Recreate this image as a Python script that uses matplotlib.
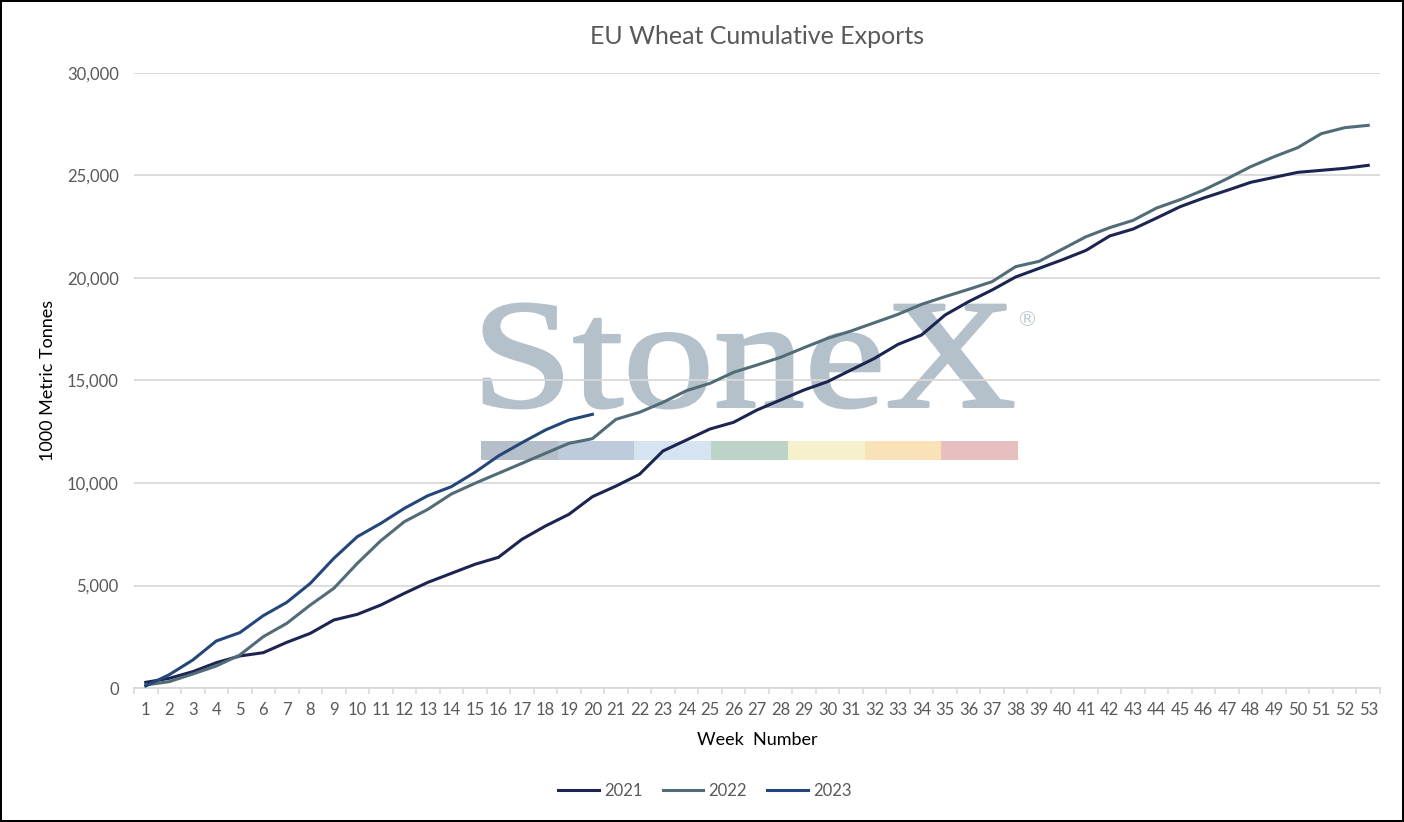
import numpy as np
import matplotlib
matplotlib.use("Agg")
import matplotlib.pyplot as plt
from matplotlib.ticker import FuncFormatter, MultipleLocator
from matplotlib.textpath import TextPath
from matplotlib.font_manager import FontProperties
from matplotlib.patches import PathPatch, Rectangle
from matplotlib.transforms import Affine2D

plt.rcParams['font.family'] = ['Lato', 'DejaVu Sans']

# --- data (1000 metric tonnes, cumulative) ---
weeks = list(range(1, 54))
exports_2021 = [276, 472, 797, 1236, 1561, 1724, 2228, 2667, 3317, 3593,
                4049, 4618, 5154, 5593, 6033, 6374, 7252, 7902, 8472, 9333,
                9850, 10423, 11561, 12098, 12634, 12959, 13561, 14049, 14537, 14943,
                15512, 16081, 16764, 17220, 18195, 18846, 19415, 20049, 20472, 20894,
                21350, 22049, 22390, 22927, 23480, 23902, 24276, 24667, 24911, 25154,
                25252, 25350, 25496]
exports_2022 = [150, 310, 683, 1073, 1610, 2504, 3155, 4049, 4862, 6081,
                7187, 8114, 8715, 9463, 9984, 10472, 10959, 11447, 11935, 12163,
                13106, 13447, 13935, 14504, 14862, 15398, 15756, 16130, 16602, 17057,
                17415, 17821, 18228, 18716, 19090, 19447, 19821, 20553, 20813, 21415,
                22016, 22455, 22813, 23415, 23821, 24293, 24846, 25431, 25919, 26358,
                27041, 27333, 27447]
exports_2023 = [100, 650, 1366, 2293, 2700, 3530, 4180, 5105, 6325, 7382,
                8033, 8764, 9382, 9821, 10520, 11317, 11967, 12585, 13073, 13350]

series = [("2021", exports_2021, "#1c2551"),
          ("2022", exports_2022, "#526c77"),
          ("2023", exports_2023, "#25467a")]

W, H = 1404, 822
fig = plt.figure(figsize=(W / 100, H / 100), dpi=100)
fig.patch.set_edgecolor("black")
fig.patch.set_linewidth(1.5)

ax = fig.add_axes([134 / W, 1 - 688 / H, (1380 - 134) / W, (688 - 73) / H])
ax.patch.set_alpha(0)

# --- StoneX watermark (behind the axes) ---
tp = TextPath((0, 0), "StoneX", prop=FontProperties(family="Liberation Serif"))
ext = tp.get_extents()
x0, x1, ytop, ybot = 484, 1013, 304, 408
sx = (x1 - x0) / ext.width / W
sy = (ybot - ytop) / ext.height / H
tr = Affine2D().translate(-ext.x0, -ext.y0).scale(sx, sy).translate(x0 / W, 1 - ybot / H)
fig.patches.append(PathPatch(tp, transform=tr + fig.transFigure, facecolor="#b4c1cb",
                             edgecolor="#b4c1cb", linewidth=2.2, joinstyle="round",
                             zorder=-5))
fig.text(1027 / W, 1 - 320 / H, "®", color="#c3ccd3", fontsize=15, ha="center", va="center",
         family="DejaVu Sans", zorder=-5)
band_cols = ["#b5bfc9", "#bdcbdd", "#d6e3f0", "#bdd3c8", "#f5f1cc", "#fae2b8", "#e7bfbf"]
bx = 481
for c in band_cols:
    fig.patches.append(Rectangle((bx / W, 1 - 460 / H), 76.7 / W, 19 / H,
                                 transform=fig.transFigure, facecolor=c,
                                 edgecolor="none", zorder=-5))
    bx += 76.7

# --- lines ---
for name, vals, col in series:
    ax.plot(weeks[:len(vals)], vals, color=col, lw=2.2, label=name,
            solid_joinstyle="round", zorder=3)

ax.set_xlim(0.5, 53.5)
ax.set_ylim(0, 30000)
ax.set_xticks(weeks)
ax.xaxis.set_minor_locator(MultipleLocator(1, offset=0.5))
ax.yaxis.set_major_locator(MultipleLocator(5000))
ax.yaxis.set_major_formatter(FuncFormatter(lambda v, p: f"{int(v):,}"))

ax.grid(axis="y", color="#d9d9d9", lw=1.3, zorder=0)
for s in ["top", "right", "left"]:
    ax.spines[s].set_visible(False)
ax.spines["bottom"].set_color("#d9d9d9")
ax.spines["bottom"].set_linewidth(1.3)

ax.tick_params(axis="y", length=0, pad=11, labelsize=12, labelcolor="#595959")
ax.tick_params(axis="x", which="major", length=0, pad=10, labelsize=12, labelcolor="#595959")
ax.tick_params(axis="x", which="minor", length=4, width=1.2, color="#d9d9d9")

ax.set_xlabel("Week  Number", fontsize=13, color="black", labelpad=10)
ax.set_ylabel("1000 Metric Tonnes", fontsize=13, color="black", labelpad=8)
ax.set_title("EU Wheat Cumulative Exports", fontsize=18, color="#595959", pad=21)

fig.legend(loc="center", bbox_to_anchor=(0.502, 1 - 791 / H), ncol=3, frameon=False,
           fontsize=12, handlelength=2.45, handletextpad=0.3, columnspacing=1.2,
           labelcolor="#595959")

fig.savefig("out.png", dpi=100, edgecolor=fig.get_edgecolor())
